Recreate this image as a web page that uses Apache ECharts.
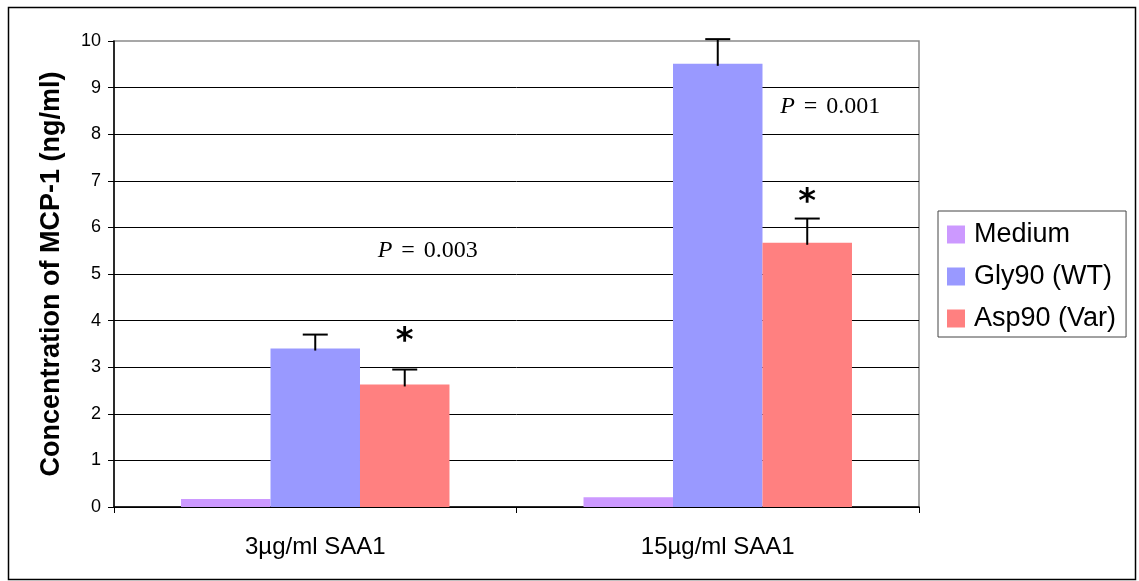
<!DOCTYPE html>
<html>
<head>
<meta charset="utf-8">
<script src="https://cdn.jsdelivr.net/npm/echarts@6/dist/echarts.min.js"></script>
<style>html,body{margin:0;padding:0;background:#fff;}#c{width:1139px;height:581px;}</style>
</head>
<body>
<div id="c"></div>
<script>
const categories = ['3µg/ml SAA1', '15µg/ml SAA1'];
const seriesNames = ['Medium', 'Gly90 (WT)', 'Asp90 (Var)'];
const mediumValues = [0.17, 0.21];
const glyValues = [3.40, 9.51];
const aspValues = [2.63, 5.67];
const mediumErrors = [0, 0];
const glyErrors = [0.30, 0.53];
const aspErrors = [0.32, 0.52];
const pLabels = ['0.003', '0.001'];
const yTicks = [0, 1, 2, 3, 4, 5, 6, 7, 8, 9, 10];

const colors = ['#CC99FF', '#9999FF', '#FF8080'];
const values = [mediumValues, glyValues, aspValues];
const errors = [mediumErrors, glyErrors, aspErrors];
const catGap = 0.333;
// annotation anchors (value-axis units)
const starAnchor = [3.53, 6.51];
const pAnchor = [5.5, 8.6];

const errData = [];
values.forEach((vals, s) => vals.forEach((v, c) => {
  if (errors[s][c] > 0) errData.push([c, v, errors[s][c], s]);
}));

function barWidth(api) {
  const band = api.size([1, 0])[0];
  return band * (1 - catGap) / 3;
}

const chart = echarts.init(document.getElementById('c'));
const option = {
  animation: false,
  color: colors,
  grid: { left: 114, right: 220, top: 41, bottom: 74, show: true, borderColor: '#8a8a8a', borderWidth: 1.5, backgroundColor: 'transparent' },
  legend: {
    orient: 'vertical', left: 938, top: 211,
    padding: [10, 10, 5, 9],
    itemWidth: 18, itemHeight: 18, itemGap: 15,
    icon: 'rect',
    borderColor: '#444', borderWidth: 1,
    textStyle: { fontFamily: 'Liberation Sans, Arial, sans-serif', fontSize: 27, color: '#000', padding: [0, 0, 0, 4] },
    data: seriesNames
  },
  xAxis: {
    type: 'category', data: categories,
    axisLine: { lineStyle: { color: '#000', width: 1.5 } },
    axisTick: { show: true, length: 6, lineStyle: { color: '#000' } },
    axisLabel: { fontFamily: 'Liberation Sans, Arial, sans-serif', fontSize: 24, color: '#000', margin: 28 },
    splitLine: { show: false }
  },
  yAxis: {
    type: 'value', min: yTicks[0], max: yTicks[yTicks.length - 1], interval: 1,
    name: 'Concentration of MCP-1 (ng/ml)', nameLocation: 'middle', nameGap: 49,
    nameTextStyle: { fontFamily: 'Liberation Sans, Arial, sans-serif', fontSize: 27, fontWeight: 'bold', color: '#000' },
    axisLine: { show: true, lineStyle: { color: '#000', width: 1.5 } },
    axisTick: { show: true, length: 6, lineStyle: { color: '#000' } },
    axisLabel: { fontFamily: 'Liberation Sans, Arial, sans-serif', fontSize: 18, color: '#000', margin: 13 },
    splitLine: { show: true, showMaxLine: false, lineStyle: { color: '#000', width: 1 } }
  },
  graphic: [{
    type: 'rect', left: 6, top: 5, silent: true,
    shape: { width: 1127, height: 572 },
    style: { fill: 'none', stroke: '#000', lineWidth: 1.5 }
  }],
  series: [
    ...seriesNames.map((n, s) => ({
      name: n, type: 'bar', data: values[s],
      barGap: '0%', barCategoryGap: (catGap * 100) + '%',
      itemStyle: { color: colors[s] }, z: 2
    })),
    {
      type: 'custom', name: 'err', z: 5, silent: true,
      data: errData,
      renderItem: function (params, api) {
        const c = api.value(0), v = api.value(1), e = api.value(2), s = api.value(3);
        const bw = barWidth(api);
        const base = api.coord([c, v]);
        const top = api.coord([c, v + e]);
        const x = base[0] + (s - 1) * bw;
        const hw = 12.5;
        return {
          type: 'group',
          children: [
            { type: 'line', shape: { x1: x, y1: base[1] + 2, x2: x, y2: top[1] }, style: { stroke: '#000', lineWidth: 2 } },
            { type: 'line', shape: { x1: x - hw, y1: top[1], x2: x + hw, y2: top[1] }, style: { stroke: '#000', lineWidth: 2 } }
          ]
        };
      }
    },
    {
      type: 'custom', name: 'annot', z: 6, silent: true,
      data: categories.map((c, i) => [i, starAnchor[i], pAnchor[i]]),
      renderItem: function (params, api) {
        const c = api.value(0);
        const bw = barWidth(api);
        const s = api.coord([c, api.value(1)]);
        const p = api.coord([c, api.value(2)]);
        const x = s[0] + bw;
        const pLabel = pLabels[params.dataIndex];
        return {
          type: 'group',
          children: [
            { type: 'text', x: x, y: s[1], style: { text: '*', fontFamily: 'DejaVu Sans, sans-serif', fontSize: 34, fontWeight: 'bold', fill: '#000', align: 'center', verticalAlign: 'middle' } },
            { type: 'text', x: x + 23, y: p[1], style: {
                text: '{i|P} {e|=} {n|' + pLabel + '}',
                align: 'center', verticalAlign: 'middle',
                rich: {
                  i: { fontFamily: 'Liberation Serif, serif', fontStyle: 'italic', fontSize: 24, fill: '#000' },
                  e: { fontFamily: 'Liberation Serif, serif', fontSize: 24, fill: '#000', padding: [0, 3] },
                  n: { fontFamily: 'Liberation Serif, serif', fontSize: 24, fill: '#000' }
                },
                fontFamily: 'Liberation Serif, serif', fontSize: 24, fill: '#000'
              } }
          ]
        };
      }
    }
  ]
};
chart.setOption(option);
</script>
</body>
</html>
